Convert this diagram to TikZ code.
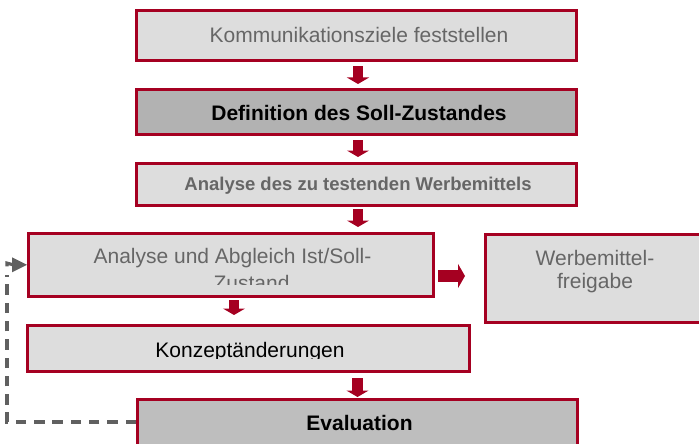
\documentclass[tikz,border=0pt]{standalone}
\usepackage{fontspec}
\setmainfont{Liberation Sans}
\usetikzlibrary{arrows.meta}
\definecolor{bred}{HTML}{A50021}
\definecolor{lgray}{HTML}{DDDDDD}
\definecolor{mgray}{HTML}{B2B2B2}
\definecolor{egray}{HTML}{BEBEBE}
\definecolor{tgray}{HTML}{666666}
\definecolor{dgray}{HTML}{606060}
\begin{document}
\begin{tikzpicture}[x=1pt,y=-1pt,
  box/.style={draw=bred, line width=3pt, fill=lgray, rectangle, inner sep=0pt},
  txt/.style={anchor=base, inner sep=0pt, font=\fontsize{21pt}{24pt}\selectfont},
  blockdown/.style={draw=bred, line width=10.5pt, -{Triangle[width=22pt,length=6.5pt]}},
  blockright/.style={draw=bred, line width=12pt, -{Triangle[width=24pt,length=7pt]}},
  loopline/.style={draw=dgray, line width=3.2pt, dash pattern=on 10.5pt off 7.8pt},
  loopstub/.style={draw=dgray, line width=3.2pt},
  loophead/.style={fill=dgray, draw=none}
]
\useasboundingbox (0,0) rectangle (699,444);

% boxes
\node[box, minimum width=440pt, minimum height=50.5pt] (b1) at (356.5,35.75) {};
\node[box, fill=mgray, minimum width=440pt, minimum height=44.5pt] (b2) at (356.5,111.75) {};
\node[box, minimum width=440pt, minimum height=42pt] (b3) at (356.5,184.5) {};
\node[box, minimum width=405pt, minimum height=62.5pt] (b4) at (231,264.75) {};
\node[box, minimum width=220.5pt, minimum height=88pt] (b5) at (595.75,278.5) {};
\node[box, minimum width=441.5pt, minimum height=45.5pt] (b6) at (248.25,348.25) {};
\node[box, fill=egray, minimum width=440pt, minimum height=50.5pt] (b7) at (357.5,424.75) {};

% texts
\node[txt, text=tgray] (t1) at (359,42.5) {Kommunikationsziele feststellen};
\node[txt, text=black, font=\fontsize{21pt}{24pt}\selectfont\bfseries] (t2) at (359,121) {Definition des Soll-Zustandes};
\node[txt, text=tgray, font=\fontsize{18.5pt}{22pt}\selectfont\bfseries] (t3) at (358,190.5) {Analyse des zu testenden Werbemittels};
\begin{scope}
  \clip (30,235) rectangle (432,284);
  \node[txt, text=tgray] (t4a) at (232.5,263) {Analyse und Abgleich Ist/Soll-};
  \node[txt, text=tgray] (t4b) at (251.5,290) {Zustand};
\end{scope}
\node[txt, text=tgray] (t5a) at (595,265) {Werbemittel-};
\node[txt, text=tgray] (t5b) at (595,288.5) {freigabe};
\begin{scope}
  \clip (29,327) rectangle (467,358.5);
  \node[txt, text=black] (t6) at (250,357.5) {Konzeptänderungen};
\end{scope}
\node[txt, text=black, font=\fontsize{21pt}{24pt}\selectfont\bfseries] (t7) at (359.5,430) {Evaluation};

% block arrows
\draw[blockdown] ([xshift=1.5pt,yshift=-4pt]b1.south) -- ([xshift=1.5pt,yshift=4pt]b2.north);
\draw[blockdown] ([xshift=1.5pt,yshift=-4.5pt]b2.south) -- ([xshift=1.5pt,yshift=5pt]b3.north);
\draw[blockdown] ([xshift=1.5pt,yshift=-2pt]b3.south) -- ([xshift=1.5pt,yshift=5pt]b3.south |- b4.north);
\draw[blockdown] ([xshift=3pt,yshift=-2.5pt]b4.south) -- ([xshift=3pt,yshift=9pt]b4.south |- b6.north);
\draw[blockdown] ([yshift=-5.5pt]b7.north |- b6.south) -- ([yshift=1pt]b7.north);
\draw[blockright] ([xshift=3pt,yshift=-11.25pt]b4.east) -- ([xshift=-19pt,yshift=-11.25pt]b4.east -| b5.west);

% dashed feedback loop
\coordinate (lx) at (7,0);
\draw[loopline] ([yshift=2.75pt]b7.west) -- ([yshift=2.75pt]b7.west -| lx) -- ([yshift=-10pt]b4.west -| lx);
\draw[loopstub] ([yshift=-1.6pt]b4.west -| lx) -- ([yshift=1.6pt]b4.west -| lx) -- ([xshift=-14pt]b4.west);
\fill[loophead] (b4.west) -- ++(-15,-7.5) -- ++(0,15) -- cycle;
\end{tikzpicture}
\end{document}
